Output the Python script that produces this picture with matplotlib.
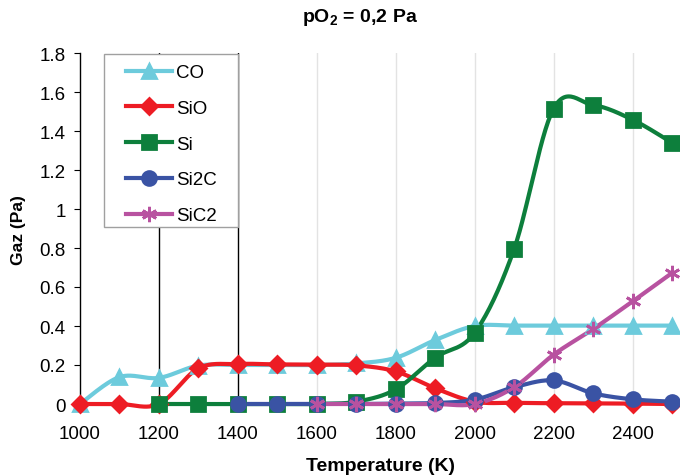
import numpy as np
import matplotlib
matplotlib.use("Agg")
import matplotlib.pyplot as plt
from matplotlib.ticker import FuncFormatter
from matplotlib.patches import Rectangle

plt.rcParams['font.family'] = ['Liberation Sans', 'DejaVu Sans']
plt.rcParams['mathtext.fontset'] = 'custom'
plt.rcParams['mathtext.rm'] = 'Liberation Sans'
plt.rcParams['mathtext.bf'] = 'Liberation Sans:bold'

temps = [1000, 1100, 1200, 1300, 1400, 1500, 1600, 1700, 1800, 1900, 2000, 2100, 2200, 2300, 2400, 2500]

co = [0.0, 0.138, 0.134, 0.197, 0.2, 0.2, 0.2, 0.208, 0.237, 0.328, 0.4, 0.402, 0.402, 0.402, 0.402, 0.402]
sio = [0.0, 0.0, 0.0, 0.183, 0.205, 0.203, 0.202, 0.198, 0.167, 0.081, 0.012, 0.006, 0.004, 0.003, 0.002, 0.0]
si_t = temps[2:]
si = [0.0, 0.0, 0.0, 0.0, 0.0, 0.012, 0.075, 0.238, 0.365, 0.795, 1.515, 1.533, 1.458, 1.34]
si2c_t = temps[4:]
si2c = [0.0, 0.0, 0.0, 0.0, 0.002, 0.005, 0.022, 0.086, 0.121, 0.055, 0.024, 0.012]
sic2_t = temps[6:]
sic2 = [0.0, 0.0, 0.0, 0.0, 0.0, 0.086, 0.253, 0.384, 0.526, 0.672]

asterisk = (6, 2, 0)
series = [
    ("CO", temps, co, "#6dcbdc", "^", 9.5),
    ("SiO", temps, sio, "#ed1c24", "D", 8),
    ("Si", si_t, si, "#0d7f3c", "s", 9.5),
    ("Si2C", si2c_t, si2c, "#3a53a4", "o", 10),
    ("SiC2", sic2_t, sic2, "#b852a0", asterisk, 11),
]


def smooth(x, y, n=30):
    # excel-style smoothed line: cubic bezier through the points
    x = np.asarray(x, float)
    y = np.asarray(y, float)
    p = np.column_stack([x, y])
    out = [p[0]]
    t = np.linspace(0, 1, n)[1:, None]
    for i in range(len(p) - 1):
        p0 = p[i - 1] if i > 0 else p[i]
        p3 = p[i + 2] if i + 2 < len(p) else p[i + 1]
        c1 = p[i] + (p[i + 1] - p0) / 6
        c2 = p[i + 1] - (p3 - p[i]) / 6
        seg = ((1 - t) ** 3) * p[i] + 3 * ((1 - t) ** 2) * t * c1 + 3 * (1 - t) * t ** 2 * c2 + t ** 3 * p[i + 1]
        out.extend(seg)
    out = np.array(out)
    return out[:, 0], out[:, 1]


fig = plt.figure(figsize=(6.8, 4.77), dpi=100)
ax = fig.add_axes([80 / 680, 1 - 405 / 477, 592 / 680, 351 / 477])

for xv in range(1200, 2500, 200):
    c = "black" if xv in (1200, 1400) else "#e3e3e3"
    ax.axvline(xv, color=c, lw=1, zorder=0)

handles = []
for name, xs, ys, col, mk, ms in series:
    sx, sy = smooth(xs, ys)
    ax.plot(sx, sy, color=col, lw=3, zorder=2, clip_on=False, solid_capstyle="round")
    ax.plot(xs, ys, ls="none", marker=mk, ms=ms, mew=2, color=col, mec=col, zorder=3, clip_on=False)
    h, = ax.plot([], [], color=col, lw=3, marker=mk, ms=ms, mew=2, mec=col)
    handles.append(h)

ax.set_xlim(1000, 2500)
ax.set_ylim(0, 1.8)
ax.set_xticks(range(1000, 2501, 200))
ax.set_yticks(np.arange(0, 1.81, 0.2))
ax.yaxis.set_major_formatter(FuncFormatter(lambda v, p: "%g" % round(v, 1)))
ax.tick_params(axis="x", length=0, labelsize=13.5, pad=15)
ax.tick_params(axis="y", direction="out", length=4.3, labelsize=13.5, pad=6)
for s in ("top", "right", "bottom"):
    ax.spines[s].set_visible(False)
ax.spines["left"].set_linewidth(1)

# legend box drawn separately so it matches the original size
box = Rectangle((0.0405, 0.504), 0.226, 0.493, transform=ax.transAxes, facecolor="white",
                edgecolor="#a0a0a0", lw=1, zorder=4, clip_on=False)
ax.add_patch(box)
leg = ax.legend(handles, [s[0] for s in series], loc="upper left", bbox_to_anchor=(0.077, 0.968),
                borderaxespad=0, borderpad=0, fontsize=13.5, handlelength=2.5, handletextpad=0.2,
                labelspacing=0.99, frameon=False)
leg.set_zorder(5)

fig.text(360 / 680, 1 - 17 / 477, "pO$_\\mathbf{2}$ = 0,2 Pa", ha="center", va="center",
         fontsize=14, fontweight="bold")
fig.text(381 / 680, 1 - 467 / 477, "Temperature (K)", ha="center", va="center",
         fontsize=14, fontweight="bold")
fig.text(18 / 680, 1 - 230 / 477, "Gaz (Pa)", ha="center", va="center", rotation=90,
         fontsize=12.5, fontweight="bold")

fig.savefig("out.png", dpi=100)
